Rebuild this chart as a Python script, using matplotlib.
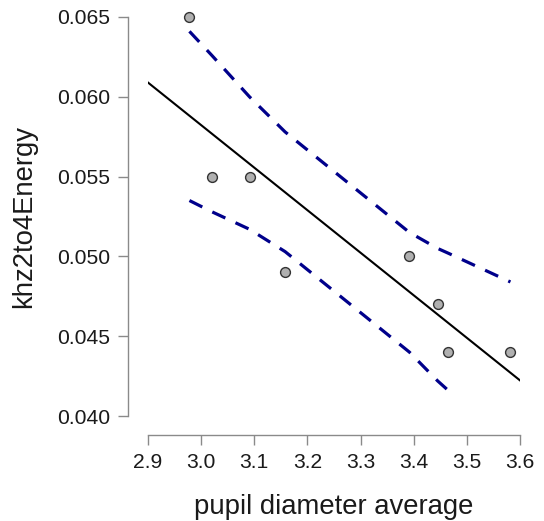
import numpy as np
import matplotlib
matplotlib.use("Agg")
import matplotlib.pyplot as plt

plt.rcParams['font.family'] = ['Liberation Sans', 'DejaVu Sans']

# data
pupil = [2.978, 3.020, 3.091, 3.158, 3.392, 3.445, 3.465, 3.582]
energy = [0.065, 0.055, 0.055, 0.049, 0.050, 0.047, 0.044, 0.044]
band_upper = [0.0641, 0.0626, 0.0600, 0.0578, 0.0515, 0.0505, 0.0502, 0.0484]
band_lower = [0.0535, 0.0528, 0.0517, 0.0503, 0.0440, 0.0422, 0.0416, np.nan]
x_ticks = [2.9, 3.0, 3.1, 3.2, 3.3, 3.4, 3.5, 3.6]
y_ticks = [0.040, 0.045, 0.050, 0.055, 0.060, 0.065]

W, H = 544, 521
px = 72 / 100  # one pixel in points
fig = plt.figure(figsize=(W / 100, H / 100), dpi=100)
# axes box in pixel coordinates: x 148..520, y 17..416 (from top)
ax = fig.add_axes([148 / W, 1 - 416 / H, (520 - 148) / W, (416 - 17) / H])

slope, icept = np.polyfit(pupil, energy, 1)
xl = np.array([x_ticks[0], x_ticks[-1]])
ax.plot(xl, icept + slope * xl, color='black', lw=1.5, zorder=2)

ax.plot(pupil, band_upper, color='#00008B', lw=2.3, ls=(0, (4.5, 3.5)), zorder=2)
ax.plot(pupil, band_lower, color='#00008B', lw=2.3, ls=(0, (4.5, 3.5)), zorder=2)

ax.scatter(pupil, energy, s=50, color='#b0b0b0', edgecolor='#333333', linewidth=1.0,
           zorder=3, clip_on=False)

ax.set_xlim(x_ticks[0], x_ticks[-1])
ax.set_ylim(y_ticks[0], y_ticks[-1])
ax.set_xticks(x_ticks)
ax.set_yticks(y_ticks)
ax.set_xticklabels([f"{v:.1f}" for v in x_ticks])
ax.set_yticklabels([f"{v:.3f}" for v in y_ticks])

for s in ['top', 'right']:
    ax.spines[s].set_visible(False)
ax.spines['left'].set_position(('outward', 20 * px))
ax.spines['bottom'].set_position(('outward', 19 * px))
ax.spines['left'].set_bounds(y_ticks[0], y_ticks[-1])
ax.spines['bottom'].set_bounds(x_ticks[0], x_ticks[-1])
for s in ['left', 'bottom']:
    ax.spines[s].set_color('#8a8a8a')
    ax.spines[s].set_linewidth(1.0)
ax.tick_params(axis='both', length=10 * px, width=1.0, color='#8a8a8a', labelsize=15.2,
               labelcolor='#1a1a1a', pad=8 * px)

ax.set_xlabel('pupil diameter average', fontsize=19.8, labelpad=16, color='#1a1a1a')
ax.set_ylabel('khz2to4Energy', fontsize=19.8, labelpad=14, color='#1a1a1a')

fig.savefig('out.png', dpi=100)
